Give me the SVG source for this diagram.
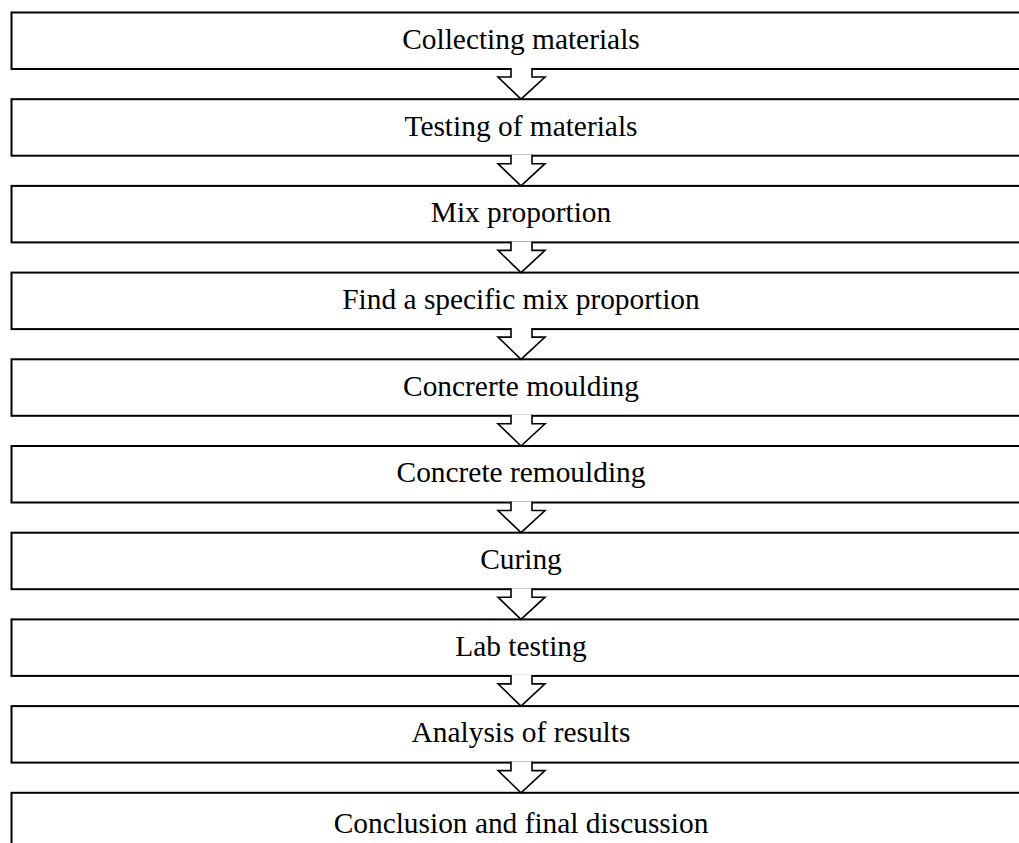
<svg xmlns="http://www.w3.org/2000/svg" width="1019" height="843" viewBox="0 0 1019 843">
<style>
.box{fill:#fff;stroke:#000;stroke-width:2}
.lbl{font-family:"Liberation Serif","Times New Roman",serif;font-size:29.4px;fill:#000;text-anchor:middle}
.arr{fill:#fff;stroke:#000;stroke-width:1.6;stroke-linejoin:miter}
</style>
<rect width="1019" height="843" fill="#fff"/>
<g id="n1"><rect class="box" x="11.5" y="12.5" width="1100" height="56.5"/><text class="lbl" x="521" y="49">Collecting materials</text></g>
<g id="n2"><rect class="box" x="11.5" y="99.2" width="1100" height="56.5"/><text class="lbl" x="521" y="135.7">Testing of materials</text></g>
<g id="n3"><rect class="box" x="11.5" y="185.9" width="1100" height="56.5"/><text class="lbl" x="521" y="222.4">Mix proportion</text></g>
<g id="n4"><rect class="box" x="11.5" y="272.6" width="1100" height="56.5"/><text class="lbl" x="521" y="309.1">Find a specific mix proportion</text></g>
<g id="n5"><rect class="box" x="11.5" y="359.3" width="1100" height="56.5"/><text class="lbl" x="521" y="395.8">Concrerte moulding</text></g>
<g id="n6"><rect class="box" x="11.5" y="446" width="1100" height="56.5"/><text class="lbl" x="521" y="482.3">Concrete remoulding</text></g>
<g id="n7"><rect class="box" x="11.5" y="532.7" width="1100" height="56.5"/><text class="lbl" x="521" y="569">Curing</text></g>
<g id="n8"><rect class="box" x="11.5" y="619.4" width="1100" height="56.5"/><text class="lbl" x="521" y="655.7">Lab testing</text></g>
<g id="n9"><rect class="box" x="11.5" y="706.1" width="1100" height="56.5"/><text class="lbl" x="521" y="742.4">Analysis of results</text></g>
<g id="n10"><rect class="box" x="11.5" y="792.8" width="1100" height="100"/><text class="lbl" x="521" y="833">Conclusion and final discussion</text></g>
<g id="connectors">
<path class="arr" d="M511,68 V77 H498 L521,99.2 L545,77 H532 V68"/>
<path class="arr" d="M511,154.7 V163.7 H498 L521,185.9 L545,163.7 H532 V154.7"/>
<path class="arr" d="M511,241.4 V250.4 H498 L521,272.6 L545,250.4 H532 V241.4"/>
<path class="arr" d="M511,328.1 V337.1 H498 L521,359.3 L545,337.1 H532 V328.1"/>
<path class="arr" d="M511,414.8 V423.8 H498 L521,446 L545,423.8 H532 V414.8"/>
<path class="arr" d="M511,501.5 V510.5 H498 L521,532.7 L545,510.5 H532 V501.5"/>
<path class="arr" d="M511,588.2 V597.2 H498 L521,619.4 L545,597.2 H532 V588.2"/>
<path class="arr" d="M511,674.9 V683.9 H498 L521,706.1 L545,683.9 H532 V674.9"/>
<path class="arr" d="M511,761.6 V770.6 H498 L521,792.8 L545,770.6 H532 V761.6"/>
</g>
</svg>
